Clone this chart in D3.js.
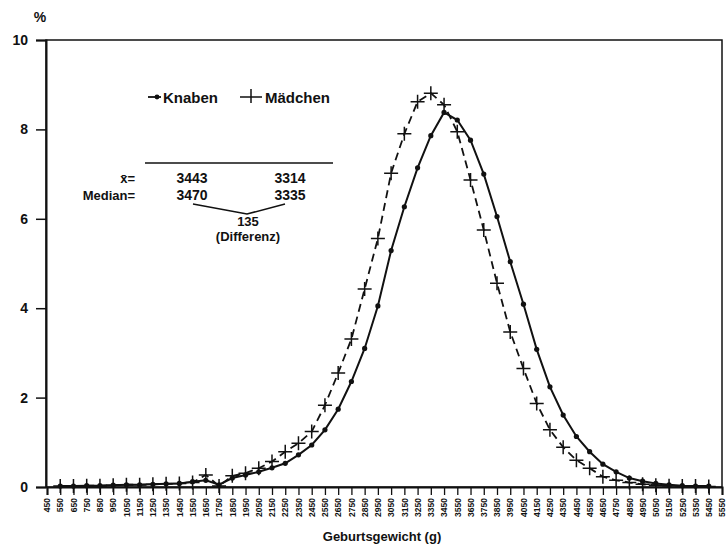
<!DOCTYPE html>
<html>
<head>
<meta charset="utf-8">
<script src="https://cdn.jsdelivr.net/npm/d3@7"></script>
<style>
  body { margin: 0; background: #fff; }
  text { font-family: "Liberation Sans", Arial, sans-serif; font-weight: bold; fill: #111; }
</style>
</head>
<body>
<div id="chart"></div>
<script>
// tick labels on the weight axis (g)
const tickLabels = [450, 550, 650, 750, 850, 950, 1050, 1150, 1250, 1350, 1450, 1550, 1650,
  1750, 1850, 1950, 2050, 2150, 2250, 2350, 2450, 2550, 2650, 2750, 2850, 2950, 3050, 3150,
  3250, 3350, 3450, 3550, 3650, 3750, 3850, 3950, 4050, 4150, 4250, 4350, 4450, 4550, 4650,
  4750, 4850, 4950, 5050, 5150, 5250, 5350, 5450, 5550];

// weight classes that carry a value
const weights = tickLabels.slice(1, 51);

// percent per weight class
const knaben = [0.02, 0.02, 0.03, 0.03, 0.04, 0.05, 0.05, 0.06, 0.07, 0.08,
  0.12, 0.15, 0.05, 0.20, 0.27, 0.34, 0.43, 0.53, 0.72, 0.94,
  1.28, 1.74, 2.36, 3.10, 4.05, 5.29, 6.27, 7.14, 7.86, 8.38,
  8.21, 7.76, 7.00, 6.05, 5.04, 4.09, 3.08, 2.24, 1.61, 1.13,
  0.79, 0.51, 0.34, 0.20, 0.13, 0.08, 0.05, 0.03, 0.02, 0.02];

const maedchen = [0.02, 0.02, 0.03, 0.03, 0.04, 0.05, 0.05, 0.06, 0.07, 0.08,
  0.10, 0.27, 0.02, 0.25, 0.31, 0.42, 0.57, 0.79, 0.98, 1.24,
  1.83, 2.55, 3.31, 4.43, 5.56, 7.02, 7.90, 8.62, 8.81, 8.55,
  7.95, 6.87, 5.75, 4.56, 3.47, 2.65, 1.87, 1.28, 0.89, 0.60,
  0.42, 0.23, 0.15, 0.10, 0.06, 0.04, 0.03, 0.02, 0.02, 0.01];

const yTicks = [0, 2, 4, 6, 8, 10];

const width = 728, height = 549;
const margin = { top: 40, right: 6, bottom: 62, left: 46 };

const svg = d3.select('#chart').append('svg')
  .attr('width', width)
  .attr('height', height);

const x = d3.scaleLinear()
  .domain([450, 5550])
  .range([margin.left + 1, width - margin.right]);

const y = d3.scaleLinear()
  .domain([0, 10])
  .range([height - margin.bottom, margin.top]);

// frame
svg.append('rect')
  .attr('x', margin.left)
  .attr('y', margin.top)
  .attr('width', width - margin.right - margin.left)
  .attr('height', y(0) - margin.top)
  .attr('fill', 'none')
  .attr('stroke', '#111')
  .attr('stroke-width', 1.5);

// y axis
const yAxis = svg.append('g')
  .attr('transform', `translate(${margin.left},0)`)
  .call(d3.axisLeft(y).tickValues(yTicks).tickSize(10).tickPadding(8));
yAxis.select('.domain').attr('stroke', '#111').attr('stroke-width', 2);
yAxis.selectAll('.tick line').attr('stroke', '#111').attr('stroke-width', 1.5);
yAxis.selectAll('.tick text')
  .attr('font-size', 14)
  .attr('font-family', '"Liberation Sans", Arial, sans-serif')
  .attr('font-weight', 'bold');

svg.append('text')
  .attr('x', 40).attr('y', 22)
  .attr('text-anchor', 'middle')
  .attr('font-size', 14)
  .text('%');

// x axis
const xAxis = svg.append('g')
  .attr('transform', `translate(0,${y(0)})`)
  .call(d3.axisBottom(x).tickValues(tickLabels).tickSize(8).tickFormat(d3.format('d')));
xAxis.select('.domain').attr('stroke', '#111').attr('stroke-width', 2);
xAxis.selectAll('.tick line').attr('stroke', '#111').attr('stroke-width', 1.3);
xAxis.selectAll('.tick text')
  .attr('font-size', 8.5)
  .attr('font-family', '"Liberation Sans", Arial, sans-serif')
  .attr('font-weight', 'bold')
  .attr('text-anchor', 'end')
  .attr('dy', '0.32em')
  .attr('transform', 'rotate(-90) translate(-11,0)')
  .attr('x', 0).attr('y', 0);

svg.append('text')
  .attr('x', 382).attr('y', 541)
  .attr('text-anchor', 'middle')
  .attr('font-size', 13)
  .text('Geburtsgewicht (g)');

// series
const line = d3.line()
  .x((d, i) => x(weights[i]))
  .y(d => y(d));

svg.append('path')
  .datum(maedchen)
  .attr('fill', 'none')
  .attr('stroke', '#111')
  .attr('stroke-width', 1.8)
  .attr('stroke-dasharray', '8,5')
  .attr('d', line);

svg.append('path')
  .datum(knaben)
  .attr('fill', 'none')
  .attr('stroke', '#111')
  .attr('stroke-width', 2)
  .attr('d', line);

svg.append('g').selectAll('circle')
  .data(knaben)
  .join('circle')
  .attr('cx', (d, i) => x(weights[i]))
  .attr('cy', d => y(d))
  .attr('r', 2.6)
  .attr('fill', '#111');

const plus = 'M-7,0H7M0,-7V7';
svg.append('g').selectAll('path')
  .data(maedchen)
  .join('path')
  .attr('transform', (d, i) => `translate(${x(weights[i])},${y(d)})`)
  .attr('d', plus)
  .attr('stroke', '#111')
  .attr('stroke-width', 1.5)
  .attr('fill', 'none');

// legend
const lg = svg.append('g').attr('transform', 'translate(0,97)');
lg.append('line').attr('x1', 148).attr('x2', 161).attr('y1', 0).attr('y2', 0)
  .attr('stroke', '#111').attr('stroke-width', 1.8);
lg.append('circle').attr('cx', 157).attr('cy', 0).attr('r', 2.4).attr('fill', '#111');
lg.append('text').attr('x', 163).attr('y', 5.5).attr('font-size', 15).text('Knaben');
lg.append('path').attr('d', 'M240,0H262M251,-8V6')
  .attr('stroke', '#111').attr('stroke-width', 1.5).attr('fill', 'none');
lg.append('text').attr('x', 265).attr('y', 5.5).attr('font-size', 15).text('Mädchen');

// statistics box
const stats = svg.append('g');
stats.append('line').attr('x1', 145).attr('x2', 333).attr('y1', 163).attr('y2', 163)
  .attr('stroke', '#111').attr('stroke-width', 1.5);

const rows = [
  { label: 'x̄=', k: '3443', m: '3314', y: 183 },
  { label: 'Median=', k: '3470', m: '3335', y: 200 }
];
rows.forEach(r => {
  stats.append('text').attr('x', 135).attr('y', r.y).attr('text-anchor', 'end')
    .attr('font-size', 13).text(r.label);
  stats.append('text').attr('x', 192).attr('y', r.y).attr('text-anchor', 'middle')
    .attr('font-size', 14).text(r.k);
  stats.append('text').attr('x', 290).attr('y', r.y).attr('text-anchor', 'middle')
    .attr('font-size', 14).text(r.m);
});

stats.append('path')
  .attr('d', 'M193,204L247,214L285,204')
  .attr('stroke', '#111').attr('stroke-width', 1.5).attr('fill', 'none');
stats.append('text').attr('x', 248).attr('y', 226).attr('text-anchor', 'middle')
  .attr('font-size', 13).text('135');
stats.append('text').attr('x', 248).attr('y', 241).attr('text-anchor', 'middle')
  .attr('font-size', 13).text('(Differenz)');
</script>
</body>
</html>
